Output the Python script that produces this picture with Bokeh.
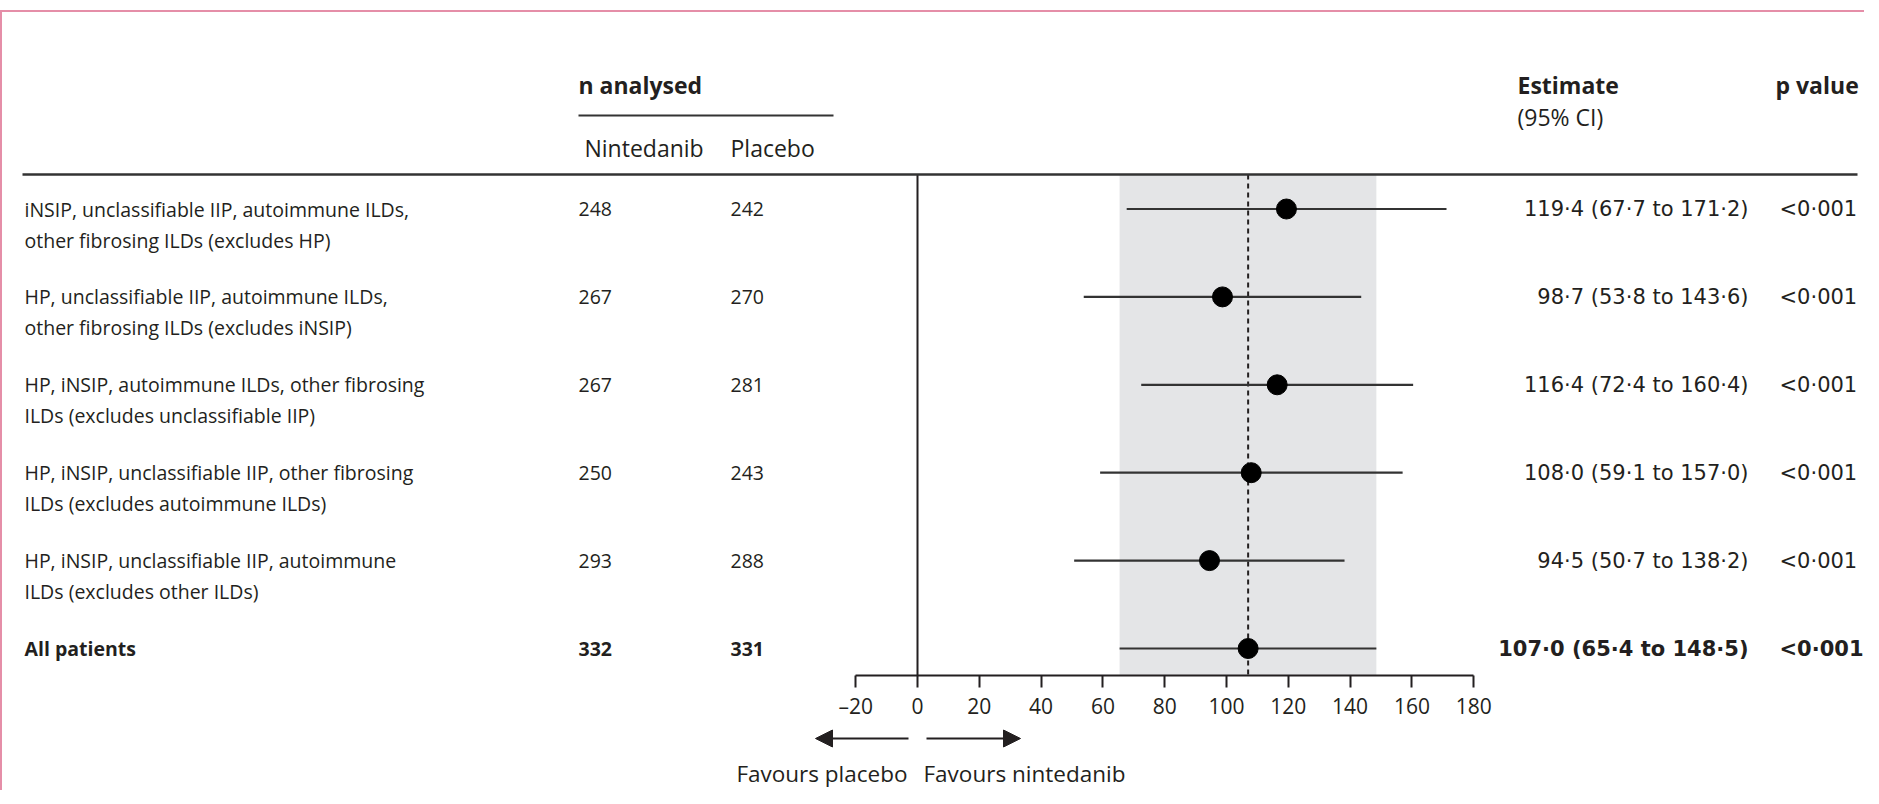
from bokeh.plotting import figure
from bokeh.models import Range1d, LinearAxis, FixedTicker, Span, Arrow, NormalHead
from bokeh.layouts import column
from bokeh.embed import file_html
from bokeh.resources import INLINE
from bokeh.core.properties import value

# ---------------- data ----------------
labels_line1 = [
    "iNSIP, unclassifiable IIP, autoimmune ILDs,",
    "HP, unclassifiable IIP, autoimmune ILDs,",
    "HP, iNSIP, autoimmune ILDs, other fibrosing",
    "HP, iNSIP, unclassifiable IIP, other fibrosing",
    "HP, iNSIP, unclassifiable IIP, autoimmune",
    "All patients",
]
labels_line2 = [
    "other fibrosing ILDs (excludes HP)",
    "other fibrosing ILDs (excludes iNSIP)",
    "ILDs (excludes unclassifiable IIP)",
    "ILDs (excludes autoimmune ILDs)",
    "ILDs (excludes other ILDs)",
    "",
]
n_nintedanib = [248, 267, 267, 250, 293, 332]
n_placebo = [242, 270, 281, 243, 288, 331]
estimate = [119.4, 98.7, 116.4, 108.0, 94.5, 107.0]
ci_low = [67.7, 53.8, 72.4, 59.1, 50.7, 65.4]
ci_high = [171.2, 143.6, 160.4, 157.0, 138.2, 148.5]
p_values = ["<0·001", "<0·001", "<0·001", "<0·001", "<0·001", "<0·001"]
tick_values = [-20, 0, 20, 40, 60, 80, 100, 120, 140, 160, 180]
tick_labels = ["–20", "0", "20", "40", "60", "80", "100", "120", "140", "160", "180"]

# ---------------- layout constants ----------------
W = 1862
OFFX = 2           # page x of canvas left (after pink border)
OFFY = 12          # page y of canvas top (after top margin + pink border)
AXIS_Y = 675       # page y of axis line
HA = AXIS_Y - OFFY + 48
HB = 790 - (OFFY + HA)
PX = 3.09          # pixels per data unit
X0 = 917           # page x of value 0
ROW_PX = 87.9
ROW0 = 208.5       # page y of first row

INK = "#231f20"
BAND = "#e4e5e7"
PINK = "#e58ea8"
FONT = value("Open Sans")
NUMFONT = value("DejaVu Sans")


def X(px):
    return (px - X0) / PX


def Y(py):
    return (ROW0 - py) / ROW_PX


rows = [-i for i in range(len(estimate))]
n_rows = len(rows)

x_range = Range1d(X(OFFX), X(OFFX + W))
y_range = Range1d(Y(AXIS_Y), Y(OFFY))

p = figure(width=W, height=HA, x_range=x_range, y_range=y_range,
           x_axis_location=None, y_axis_location=None,
           toolbar_location=None, output_backend="svg",
           min_border=0, min_border_bottom=HA - (AXIS_Y - OFFY),
           outline_line_color=None)
p.grid.grid_line_color = None
p.background_fill_color = "white"
p.border_fill_color = "white"

head_y = Y(174)

# band for overall CI and reference lines
p.quad(left=[ci_low[-1]], right=[ci_high[-1]], bottom=[Y(AXIS_Y)], top=[head_y],
       fill_color=BAND, line_color=None)
p.segment(x0=[0], y0=[head_y], x1=[0], y1=[Y(AXIS_Y)], line_color=INK, line_width=2)
p.segment(x0=[estimate[-1]], y0=[head_y], x1=[estimate[-1]], y1=[Y(AXIS_Y)],
          line_color=INK, line_width=2, line_dash="5 4")

# CI lines and points
p.segment(x0=ci_low, y0=rows, x1=ci_high, y1=rows, line_color="#333333", line_width=2.2)
p.scatter(x=estimate, y=rows, size=20, marker="circle", fill_color="black", line_color="black")

# header rules
p.segment(x0=[X(22)], y0=[head_y], x1=[X(1857)], y1=[head_y], line_color="#333333", line_width=2.5)
p.segment(x0=[X(578)], y0=[Y(115)], x1=[X(833)], y1=[Y(115)], line_color="#333333", line_width=2)

# header texts
hdr = dict(text_font=FONT, text_font_size="23px", text_color=INK,
           text_baseline="middle", text_align="left")
p.text(x=[X(578)], y=[Y(84)], text=["n analysed"], text_font_style="bold", **hdr)
p.text(x=[X(584)], y=[Y(147)], text=["Nintedanib"], **hdr)
p.text(x=[X(730)], y=[Y(147)], text=["Placebo"], **hdr)
p.text(x=[X(1517)], y=[Y(84)], text=["Estimate"], text_font_style="bold", **hdr)
p.text(x=[X(1517)], y=[Y(116)], text=["(95% CI)"], **hdr)
p.text(x=[X(1775)], y=[Y(84)], text=["p value"], text_font_style="bold", **hdr)

# row texts
body = dict(text_font=FONT, text_font_size="19.5px", text_color=INK,
            text_baseline="middle", text_align="left")
num = dict(text_font=NUMFONT, text_font_size="21px", text_color=INK, text_baseline="middle")
line2_dy = 31 / ROW_PX

est_text = [("%.1f (%.1f to %.1f)" % (e, lo, hi)).replace(".", "·")
            for e, lo, hi in zip(estimate, ci_low, ci_high)]

for i in range(n_rows):
    style = "bold" if i == n_rows - 1 else "normal"
    y = rows[i]
    p.text(x=[X(24)], y=[y], text=[labels_line1[i]], text_font_style=style, **body)
    if labels_line2[i]:
        p.text(x=[X(24)], y=[y - line2_dy], text=[labels_line2[i]], text_font_style=style, **body)
    p.text(x=[X(578)], y=[y], text=[str(n_nintedanib[i])], text_font_style=style, **body)
    p.text(x=[X(730)], y=[y], text=[str(n_placebo[i])], text_font_style=style, **body)
    p.text(x=[X(1748)], y=[y], text=[est_text[i]], text_align="right", text_font_style=style, **num)
    p.text(x=[X(1779)], y=[y], text=[p_values[i]], text_align="left", text_font_style=style, **num)

# x axis
ax = LinearAxis(bounds=(tick_values[0], tick_values[-1]),
                ticker=FixedTicker(ticks=tick_values),
                major_label_overrides={t: l for t, l in zip(tick_values, tick_labels)})
ax.axis_line_color = INK
ax.axis_line_width = 2
ax.major_tick_line_color = INK
ax.major_tick_line_width = 2
ax.major_tick_out = 12
ax.major_tick_in = 0
ax.minor_tick_line_color = None
ax.major_label_standoff = 4
ax.major_label_text_font = "Open Sans"
ax.major_label_text_font_size = "21px"
ax.major_label_text_color = INK
p.add_layout(ax, "below")

# ---------------- bottom strip: arrows and captions ----------------
q = figure(width=W, height=HB, x_range=x_range, y_range=Range1d(HB, 0),
           x_axis_location=None, y_axis_location=None,
           toolbar_location=None, output_backend="svg",
           min_border=0, outline_line_color=None)
q.grid.grid_line_color = None

arrow_y = 738 - (OFFY + HA)
text_y = 773 - (OFFY + HA)
q.add_layout(Arrow(end=NormalHead(size=17, fill_color=INK, line_color=INK),
                   x_start=X(908), y_start=arrow_y, x_end=X(815), y_end=arrow_y,
                   line_color=INK, line_width=2))
q.add_layout(Arrow(end=NormalHead(size=17, fill_color=INK, line_color=INK),
                   x_start=X(926), y_start=arrow_y, x_end=X(1020), y_end=arrow_y,
                   line_color=INK, line_width=2))
cap = dict(text_font=FONT, text_font_size="22.5px", text_color=INK, text_baseline="middle")
q.text(x=[X(907)], y=[text_y], text=["Favours placebo"], text_align="right", **cap)
q.text(x=[X(923)], y=[text_y], text=["Favours nintedanib"], text_align="left", **cap)

layout = column(p, q, spacing=0,
                styles={"border-left": "2px solid " + PINK,
                        "border-top": "2px solid " + PINK,
                        "margin-top": "10px"})
open("out.html", "w").write(file_html(layout, INLINE))
